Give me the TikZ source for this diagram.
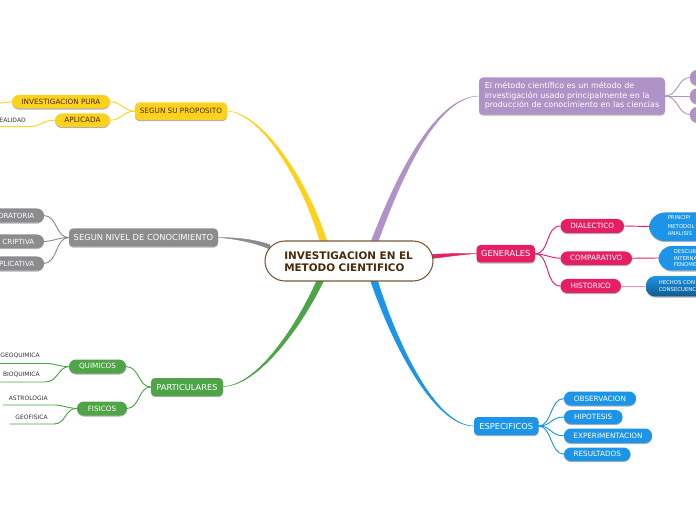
\documentclass[tikz,border=0pt]{standalone}
\usepackage{fontspec}
\setmainfont{DejaVu Sans}
\usetikzlibrary{calc,shadows}
\definecolor{cyel}{HTML}{FCD21C}
\definecolor{cgry}{HTML}{8C8C8E}
\definecolor{cgrn}{HTML}{4EA447}
\definecolor{cpur}{HTML}{B093C6}
\definecolor{cred}{HTML}{E61E63}
\definecolor{cblu}{HTML}{1C95E8}
\definecolor{cbrn}{HTML}{7A5A34}
\definecolor{ctxt}{HTML}{4A2A08}
\tikzset{
  x=0.75pt,y=-0.75pt,
  base/.style={inner sep=0pt,outer sep=0pt,drop shadow={shadow xshift=0pt,shadow yshift=-0.8pt,opacity=.3,fill=black}},
  box/.style={base,rounded corners=3pt,text=white},
  pill/.style={base,rounded corners=5.2pt,text=white},
  lab/.style={inner sep=0pt,font=\fontsize{4.5}{5}\selectfont,text=black!80},
  link/.style={line width=.7pt},
  maintitle/.style={draw=cbrn,line width=.8pt,fill=white,rounded corners=15pt,inner sep=0pt},
}
\newcommand{\nd}[8]{% style, color, name, x0, y0, x1, y1, text
  \path[#1,fill=#2] (#4,#5) rectangle (#6,#7);
  \coordinate (#3-w) at (#4,{(#5+#7)/2});
  \coordinate (#3-e) at (#6,{(#5+#7)/2});
  \node[inner sep=0pt,text=white] (#3) at ({(#4+#6)/2},{(#5+#7)/2}) {#8};
}
% colour, from, c1, c2, to, half-width x, half-width y
\newcommand{\taper}[7]{%
  \fill[#1,draw=#1,line width=.35pt] (#2) .. controls ($(#3)+(.25*#6,.25*#7)$) and ($(#4)+(.75*#6,.75*#7)$) .. ($(#5)+(#6,#7)$)
     -- ($(#5)-(#6,#7)$) .. controls ($(#4)-(.75*#6,.75*#7)$) and ($(#3)-(.25*#6,.25*#7)$) .. (#2) -- cycle;
}
\begin{document}
\begin{tikzpicture}
\useasboundingbox (0,0) rectangle (696,520);
\clip (0,0) rectangle (696,520);
\def\fa{\fontsize{5.45}{6.5}\selectfont}
\coordinate (yE) at (227,111);
\coordinate (gyE) at (218,237.5);
\coordinate (grE) at (223,386.5);
\coordinate (puW) at (479,96);
\coordinate (reW) at (476.5,253.5);
\coordinate (blW) at (474,426);
\coordinate (mY) at (324,243);
\coordinate (mG) at (321,279);
\coordinate (mP) at (374,243);
\coordinate (mB) at (373.5,279);
\coordinate (mW) at (270,247);
\coordinate (mE) at (432,256.5);
% thick branches
\taper{cyel}{yE}{262,113}{305,180}{mY}{3.5}{0}
\taper{cgrn}{grE}{258,386}{300,325}{mG}{3.5}{0}
\taper{cpur}{puW}{440,97}{405,160}{mP}{3.5}{0}
\taper{cblu}{blW}{435,426}{395,345}{mB}{3.5}{0}
\taper{cgry}{gyE}{235,238}{255,241}{mW}{0}{2.2}
\taper{cred}{reW}{462,254}{448,255}{mE}{0}{2}
% yellow group
\nd{box}{cyel}{y0}{135}{102.5}{227}{120}{\fa\textcolor{ctxt}{SEGUN SU PROPOSITO}}
\nd{pill}{cyel}{y1}{12}{95}{110}{108.5}{\fa\textcolor{ctxt}{INVESTIGACION PURA}}
\nd{pill}{cyel}{y2}{55}{113.5}{110}{127}{\fa\textcolor{ctxt}{APLICADA}}
\coordinate (yl1) at (0,103);
\coordinate (yl2) at (0,126.5);
\draw[link,cyel] (y0-w) .. controls (123,111) and (122,102) .. (y1-e);
\draw[link,cyel] (y0-w) .. controls (123,111) and (122,120) .. (y2-e);
\draw[link,cyel] (y1-w) .. controls (8,102) and (5,103) .. (yl1);
\draw[link,cyel] (y2-w) .. controls (42,120) and (42,126.5) .. (30,126.5) -- (yl2);
\node[lab,anchor=east] (t1) at (26,120) {EALIDAD};
% grey group
\nd{box}{cgry}{g0}{69}{228.5}{218}{246.5}{\fontsize{6.25}{7}\selectfont SEGUN NIVEL DE CONOCIMIENTO}
\path[pill,fill=cgry] (-30,208.5) rectangle (44,222.5);
\path[pill,fill=cgry] (-30,234.5) rectangle (44,248);
\path[pill,fill=cgry] (-30,256.5) rectangle (44,270.5);
\coordinate (g1-e) at (44,215.5);
\coordinate (g2-e) at (44,241.5);
\coordinate (g3-e) at (44,263.5);
\begin{scope}[font=\fontsize{5.3}{6.5}\selectfont]
\node[inner sep=0pt,text=white,anchor=east] (g1) at (34.5,215.5) {ORATORIA};
\node[inner sep=0pt,text=white,anchor=east] (g2) at (34.5,241.5) {CRIPTIVA};
\node[inner sep=0pt,text=white,anchor=east] (g3) at (34.5,263.5) {PLICATIVA};
\end{scope}
\draw[link,cgry] (g0-w) .. controls (55,237.5) and (58,216) .. (g1-e);
\draw[link,cgry] (g0-w) .. controls (58,237.5) and (55,241) .. (g2-e);
\draw[link,cgry] (g0-w) .. controls (55,237.5) and (58,263) .. (g3-e);
% green group
\nd{box}{cgrn}{p0}{151}{378}{223}{396}{\fontsize{6.2}{7}\selectfont PARTICULARES}
\nd{pill}{cgrn}{p1}{69}{359.5}{126}{373.5}{\fa QUIMICOS}
\nd{pill}{cgrn}{p2}{77}{401.5}{127}{415.5}{\fa FISICOS}
\draw[link,cgrn] (p0-w) .. controls (138,387) and (140,367) .. (p1-e);
\draw[link,cgrn] (p0-w) .. controls (138,387) and (140,408) .. (p2-e);
\node[lab,anchor=east] (q1) at (40,356) {GEOQUIMICA};
\node[lab,anchor=east] (q2) at (40,375) {BIOQUIMICA};
\node[lab,anchor=east] (q3) at (48,398) {ASTROLOGIA};
\node[lab,anchor=east] (q4) at (48,417) {GEOFISICA};
\coordinate (ql1) at (0,363.5);
\coordinate (ql2) at (0,382);
\coordinate (ql3) at (3,405);
\coordinate (ql4) at (9.5,424);
\draw[link,cgrn] (p1-w) .. controls (60,367) and (55,363.5) .. (47,363.5) -- (ql1);
\draw[link,cgrn] (p1-w) .. controls (58,367) and (58,382) .. (45,382) -- (ql2);
\draw[link,cgrn] (p2-w) .. controls (67,408) and (62,405) .. (55,405) -- (ql3);
\draw[link,cgrn] (p2-w) .. controls (65,408) and (66,424) .. (54,424) -- (ql4);
% purple
\path[box,fill=cpur] (479,77.5) rectangle (665,114.5);
\coordinate (pu-e) at (665,96);
\node[inner sep=0pt,text=white,anchor=west,align=left,font=\fontsize{6}{7.1}\selectfont] (pu) at (484.5,96) {El método científico es un método de\\investigación usado principalmente en la\\producción de conocimiento en las ciencias};
\path[pill,fill=cpur] (690,70) rectangle (730,85);
\path[pill,fill=cpur] (690,88.5) rectangle (730,103.5);
\path[pill,fill=cpur] (690,107) rectangle (730,122);
\coordinate (pc1) at (690,77.5);
\coordinate (pc2) at (690,96);
\coordinate (pc3) at (690,114.5);
\draw[link,cpur] (pu-e) .. controls (678,96) and (678,77.5) .. (pc1);
\draw[link,cpur] (pu-e) -- (pc2);
\draw[link,cpur] (pu-e) .. controls (678,96) and (678,114.5) .. (pc3);
% red
\nd{box}{cred}{r0}{476.5}{245}{535}{262.5}{\fontsize{6.2}{7}\selectfont GENERALES}
\nd{pill}{cred}{r1}{560.5}{219}{624}{233}{\fa DIALECTICO}
\nd{pill}{cred}{r2}{560.5}{251.5}{632}{265}{\fa COMPARATIVO}
\nd{pill}{cred}{r3}{560.5}{279}{621}{293}{\fa HISTORICO}
\draw[link,cred] (r0-e) .. controls (550,254) and (545,226) .. (r1-w);
\draw[link,cred] (r0-e) .. controls (545,254) and (550,258) .. (r2-w);
\draw[link,cred] (r0-e) .. controls (550,254) and (545,286) .. (r3-w);
% right blue leaves
\path[base,rounded corners=12pt,fill=cblu] (649,212.5) rectangle (740,241);
\path[base,rounded corners=10pt,fill=cblu] (658.5,246) rectangle (740,270.5);
\path[base,rounded corners=7pt,top color=cblu,bottom color=cblu!60!black] (646,276) rectangle (740,296.5);
\coordinate (b1-w) at (649,226.5);
\coordinate (b2-w) at (658.5,258);
\coordinate (b3-w) at (646,286);
\draw[link,cred] (r1-e) -- (b1-w);
\draw[link,cred] (r2-e) -- (b2-w);
\draw[link,cred!50] (r3-e) -- (b3-w);
\begin{scope}[font=\fontsize{4}{5}\selectfont,text=white]
\node[inner sep=0pt,anchor=west] (b11) at (667.5,218) {PRINCIPI};
\node[inner sep=0pt,anchor=west] (b12) at (667.5,226.5) {METODOL};
\node[inner sep=0pt,anchor=west] (b13) at (667.5,234) {ANALISIS};
\node[inner sep=0pt,anchor=west] (b21) at (673.5,252) {DESCUB};
\node[inner sep=0pt,anchor=west] (b22) at (673.5,258.5) {INTERNA};
\node[inner sep=0pt,anchor=west] (b23) at (673.5,265) {FENOME};
\node[inner sep=0pt,anchor=west] (b31) at (658.5,282.5) {HECHOS CON};
\node[inner sep=0pt,anchor=west] (b32) at (658.5,290) {CONSECUENC};
\end{scope}
% blue
\nd{box}{cblu}{e0}{474}{417}{538.5}{435}{\fontsize{6.2}{7}\selectfont ESPECIFICOS}
\nd{pill}{cblu}{e1}{564}{391.5}{636}{405.5}{\fa OBSERVACION}
\nd{pill}{cblu}{e2}{564}{410}{622.5}{424}{\fa HIPOTESIS}
\nd{pill}{cblu}{e3}{564}{428.5}{652}{443}{\fa EXPERIMENTACION}
\nd{pill}{cblu}{e4}{564}{447.5}{630.5}{461}{\fa RESULTADOS}
\draw[link,cblu] (e0-e) .. controls (552,426) and (550,398.5) .. (e1-w);
\draw[link,cblu] (e0-e) .. controls (552,426) and (550,417) .. (e2-w);
\draw[link,cblu] (e0-e) .. controls (552,426) and (550,436) .. (e3-w);
\draw[link,cblu] (e0-e) .. controls (552,426) and (550,454) .. (e4-w);
% centre
\path[maintitle] (265,241) rectangle (433,281);
\node[inner sep=0pt,anchor=west,align=left,text=ctxt,font=\fontsize{7.8}{9}\bfseries\selectfont] (main) at (284,261.5) {INVESTIGACION EN EL\\METODO CIENTIFICO};
\end{tikzpicture}
\end{document}
